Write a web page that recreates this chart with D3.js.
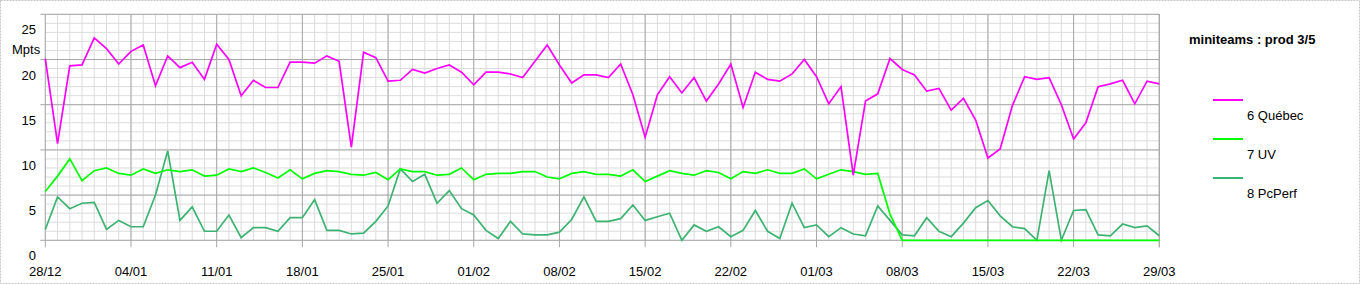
<!DOCTYPE html>
<html><head><meta charset="utf-8">
<script src="https://cdn.jsdelivr.net/npm/d3@7"></script>
<style>body{margin:0;background:#fff}svg{display:block;font-family:"Liberation Sans",Arial,sans-serif}</style>
</head><body><svg id="c" width="1360" height="284"></svg>
<script>
const tickLabels = ["28/12","04/01","11/01","18/01","25/01","01/02","08/02","15/02","22/02","01/03","08/03","15/03","22/03","29/03"];
const yTickLabels = ["0","5","10","15","20","25"];
const seriesNames = ["6 Québec","7 UV","8 PcPerf"];
const seriesColors = ["#ff00ff","#00ff00","#3cb371"];
const quebec = [20.1,10.7,19.3,19.4,22.4,21.2,19.5,20.9,21.6,17.1,20.4,19.1,19.7,17.8,21.7,20.0,16.0,17.7,16.9,16.9,19.7,19.7,19.6,20.4,19.8,10.3,20.8,20.2,17.6,17.7,18.9,18.5,19.0,19.4,18.6,17.2,18.6,18.6,18.4,18.0,19.8,21.6,19.4,17.4,18.3,18.3,18.0,19.5,16.1,11.4,16.1,18.1,16.3,18.0,15.4,17.3,19.5,14.7,18.6,17.8,17.6,18.4,20.0,18.1,15.1,17.0,7.2,15.4,16.2,20.1,18.9,18.3,16.5,16.8,14.4,15.7,13.3,9.1,10.1,14.9,18.1,17.8,18.0,15.0,11.2,13.0,17.0,17.3,17.7,15.1,17.6,17.3];
const uv = [5.4,7.1,9.0,6.6,7.7,8.0,7.4,7.2,7.9,7.4,7.8,7.6,7.8,7.1,7.2,7.9,7.6,8.0,7.5,6.9,7.8,6.8,7.4,7.7,7.6,7.3,7.2,7.5,6.7,7.9,7.6,7.6,7.2,7.3,8.0,6.7,7.3,7.4,7.4,7.6,7.6,7.0,6.8,7.4,7.6,7.3,7.3,7.1,7.8,6.5,7.1,7.7,7.4,7.2,7.7,7.5,6.8,7.6,7.4,7.8,7.4,7.4,7.9,6.8,7.3,7.8,7.6,7.3,7.4,2.9,0,0,0,0,0,0,0,0,0,0,0,0,0,0,0,0,0,0,0,0,0,0];
const pcperf = [1.2,4.8,3.5,4.1,4.2,1.2,2.2,1.5,1.5,5.0,9.9,2.2,3.7,1.0,1.0,2.8,0.3,1.4,1.4,1.0,2.5,2.5,4.5,1.1,1.1,0.7,0.8,2.1,3.8,7.9,6.5,7.3,4.1,5.5,3.5,2.8,1.1,0.2,2.1,0.7,0.6,0.6,0.9,2.3,4.8,2.1,2.1,2.4,3.9,2.2,2.6,3.0,0.0,1.7,1.0,1.5,0.4,1.1,3.3,1.0,0.2,4.1,1.4,1.7,0.4,1.4,0.7,0.5,3.8,2.2,0.6,0.5,2.5,1.0,0.4,1.9,3.6,4.4,2.7,1.5,1.3,0.0,7.7,0.0,3.3,3.4,0.6,0.5,1.8,1.4,1.6,0.5];
const title = "miniteams : prod 3/5";
const yUnit = "Mpts";

const svg = d3.select("#c");
const L = 45.3, R = 1159.3, T = 14.3, B = 240.3;
const nDays = quebec.length - 1;
const x = d3.scaleLinear().domain([0, nDays]).range([L, R]);
const y = d3.scaleLinear().domain([0, 25]).range([B, T]);

svg.append("rect").attr("x",0.5).attr("y",0.5).attr("width",1359).attr("height",283)
  .attr("fill","none").attr("stroke","#c4c4c4").attr("stroke-dasharray","2,1");

const g = svg.append("g");
// minor grid
g.selectAll(".vmin").data(d3.range(0, nDays+1)).join("line")
  .attr("x1", d=>x(d)).attr("x2", d=>x(d)).attr("y1", T).attr("y2", B)
  .attr("stroke","#dcdcdc").attr("stroke-width",1);
g.selectAll(".hmin").data(d3.range(0, 26)).join("line")
  .attr("x1", L).attr("x2", R).attr("y1", d=>y(d)).attr("y2", d=>y(d))
  .attr("stroke","#dcdcdc").attr("stroke-width",1);
// major grid
const majorX = d3.range(0, nDays+1, 7);
g.selectAll(".vmaj").data(majorX).join("line")
  .attr("x1", d=>x(d)).attr("x2", d=>x(d)).attr("y1", T).attr("y2", B+7)
  .attr("stroke","#a8a8a8").attr("stroke-width",1);
const majorY = d3.range(0, 26, 5);
g.selectAll(".hmaj").data(majorY).join("line")
  .attr("x1", L-5).attr("x2", R).attr("y1", d=>y(d)).attr("y2", d=>y(d))
  .attr("stroke","#a8a8a8").attr("stroke-width",1);
g.append("line").attr("x1",R).attr("x2",R).attr("y1",T).attr("y2",B+7).attr("stroke","#a8a8a8");

// labels
svg.selectAll(".xl").data(majorX).join("text")
  .attr("x", d=>x(d)).attr("y", 276).attr("text-anchor","middle")
  .attr("font-size",13).attr("fill","#000").text((d,i)=>tickLabels[i]);
svg.selectAll(".yl").data(majorY).join("text")
  .attr("x", 36).attr("y", d=>y(d)+20).attr("text-anchor","end")
  .attr("font-size",13).attr("fill","#000").text((d,i)=>yTickLabels[i]);
svg.append("text").attr("x",12).attr("y",54).attr("font-size",13).text(yUnit);

// lines
const line = d3.line().x((d,i)=>x(i)).y(d=>y(d));
[pcperf, uv, quebec].forEach((s,k)=>{
  const idx = 2-k;
  svg.append("path").datum(s).attr("d", line).attr("fill","none")
    .attr("stroke", seriesColors[idx]).attr("stroke-width",1.7).attr("stroke-linejoin","miter");
});

// legend
svg.append("text").attr("x",1189).attr("y",44).attr("font-size",13).attr("font-weight","bold").text(title);
const lg = svg.selectAll(".lg").data(seriesNames).join("g")
  .attr("transform",(d,i)=>`translate(0,${100+i*39})`);
lg.append("line").attr("x1",1213).attr("x2",1243).attr("y1",0).attr("y2",0)
  .attr("stroke",(d,i)=>seriesColors[i]).attr("stroke-width",2);
lg.append("text").attr("x",1247).attr("y",20).attr("font-size",13).text(d=>d);
</script></body></html>
